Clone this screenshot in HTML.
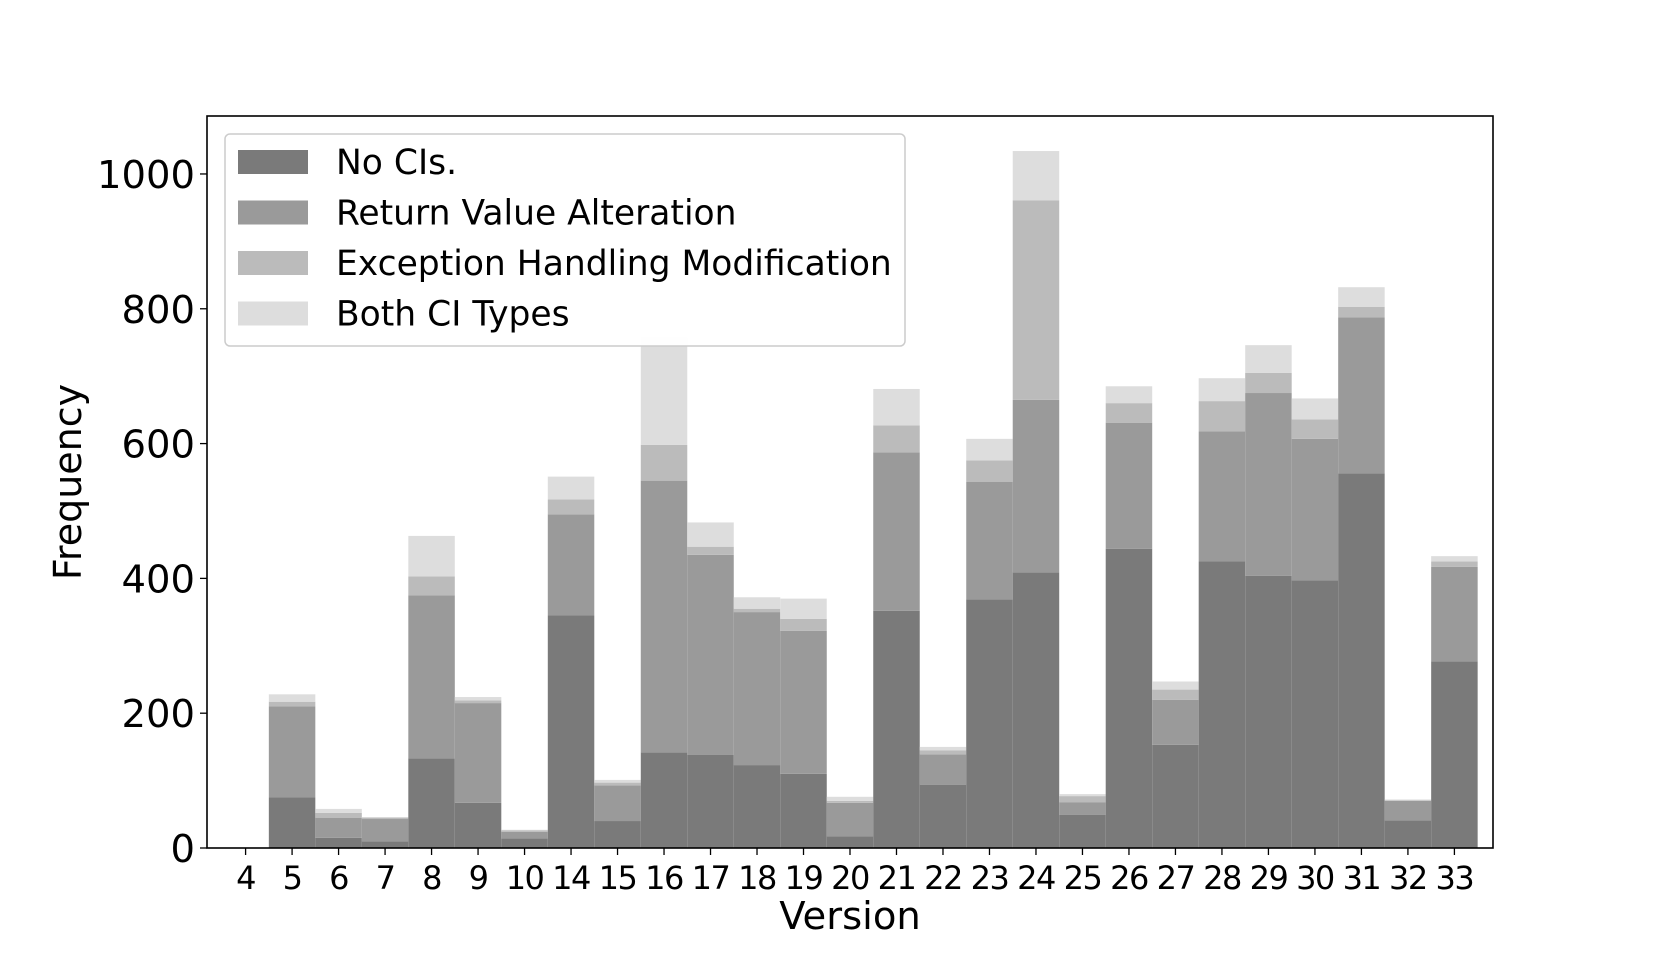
<!DOCTYPE html>
<html><head><meta charset="utf-8"><style>
body{margin:0;background:#fff}
svg text{font-family:"DejaVu Sans","Liberation Sans",sans-serif;fill:#000}
</style></head><body>
<svg id="chart" width="1661" height="969" xmlns="http://www.w3.org/2000/svg"></svg>
<script>
const categories=["4","5","6","7","8","9","10","14","15","16","17","18","19","20","21","22","23","24","25","26","27","28","29","30","31","32","33"];
const noCIs=[0,75,15,10,133,67,14,345,40,142,138,123,110,17,352,94,369,409,49,444,153,425,404,397,556,41,277];
const returnValue=[0,135,30,33,242,148,10,150,53,403,297,227,212,50,235,45,174,256,19,187,67,193,271,210,231,29,140];
const exceptionHandling=[0,7,7,2,28,4,2,22,4,53,12,5,18,3,40,6,32,296,9,29,15,45,30,29,16,1,8];
const bothTypes=[0,11,6,1,60,5,1,34,4,160,36,17,30,6,54,5,32,73,3,25,12,34,41,31,29,1,8];
const yTicks=[0,200,400,600,800,1000];
const seriesNames=["No CIs.","Return Value Alteration","Exception Handling Modification","Both CI Types"];
const colors=["#7a7a7a","#9a9a9a","#bbbbbb","#dddddd"];

const L=207,R=1493,T=116,B=848,yMax=1086,xMin=-0.83,xMax=categories.length-1+0.83;
const xs=i=>L+(i-xMin)/(xMax-xMin)*(R-L);
const ys=v=>B-v/yMax*(B-T);
const bw=(xs(1)-xs(0));
const svg=document.getElementById('chart');
const NS="http://www.w3.org/2000/svg";
function mk(t,a,p){const e=document.createElementNS(NS,t);for(const k in a)e.setAttribute(k,a[k]);(p||svg).appendChild(e);return e;}
const series=[noCIs,returnValue,exceptionHandling,bothTypes];
const g=mk('g',{});
categories.forEach((c,i)=>{
  let base=0;
  series.forEach((s,k)=>{
    const top=base+s[i];
    const r=mk('rect',{x:xs(i)-bw/2,y:ys(top),width:bw,height:ys(base)-ys(top),fill:colors[k]},g);
    
    
    base=top;
  });
});
const frame=mk('rect',{x:L,y:T,width:R-L,height:B-T,fill:'none',stroke:'#000','stroke-width':1.6});


yTicks.forEach(v=>{
  mk('line',{x1:L-7,x2:L,y1:ys(v),y2:ys(v),stroke:'#000','stroke-width':1.3});
  const t=mk('text',{x:L-12,y:ys(v)+14,'text-anchor':'end','font-size':38.5});
  t.textContent=v;
  
  
});
categories.forEach((c,i)=>{
  mk('line',{x1:xs(i),x2:xs(i),y1:B,y2:B+7,stroke:'#000','stroke-width':1.3});
  const t=mk('text',{x:xs(i),y:B+41,'text-anchor':'middle','font-size':32,'letter-spacing':-1.5});
  t.textContent=c;
  
  
});
const xl=mk('text',{x:(L+R)/2,y:929,'text-anchor':'middle','font-size':38.5});
xl.textContent='Version';


const yl=mk('text',{x:0,y:0,'text-anchor':'middle','font-size':38,transform:'translate(81,'+((T+B)/2)+') rotate(-90)'});
yl.textContent='Frequency';


const lg=mk('g',{});


mk('rect',{x:225,y:134,width:680,height:212,rx:5,fill:'#fff','fill-opacity':0.95,stroke:'#cccccc','stroke-width':1.5},lg);
seriesNames.forEach((n,k)=>{
  const cy=162+k*50.5;
  const p=mk('rect',{x:238,y:cy-12,width:70,height:24,fill:colors[k]},lg);
  
  
  const t=mk('text',{x:336,y:cy+12,'font-size':34.5},lg);
  t.textContent=n;
  
  
});
</script>
</body></html>
